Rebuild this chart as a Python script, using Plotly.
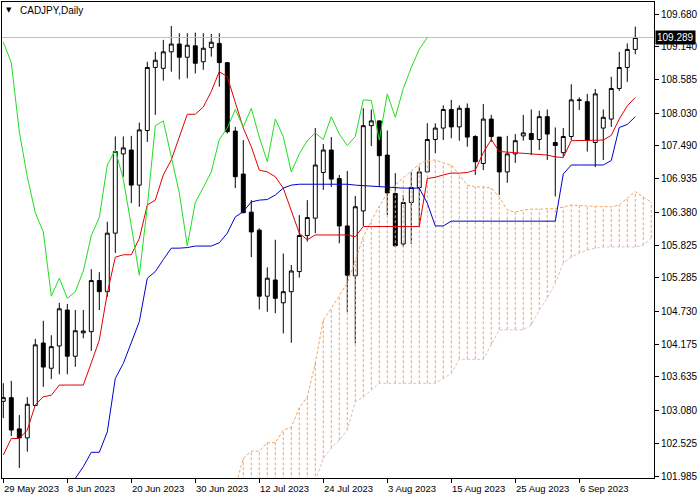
import plotly.graph_objects as go

# ---- data (CADJPY daily, 29 May 2023 .. 15 Sep 2023) ----
dates = ["29 May 2023", "8 Jun 2023", "20 Jun 2023", "30 Jun 2023", "12 Jul 2023",
         "24 Jul 2023", "3 Aug 2023", "15 Aug 2023", "25 Aug 2023", "6 Sep 2023"]
date_pos = [0, 8, 16, 24, 32, 40, 48, 56, 64, 72]

opens = [103.23, 103.29, 102.77, 102.62, 103.16, 104.20, 103.78, 104.15, 104.75, 103.98,
         104.37, 104.39, 105.24, 105.055, 106.03, 107.35, 107.415, 106.83, 107.74, 108.79,
         108.775, 109.05, 109.18, 108.96, 109.15, 108.885, 109.12, 109.19, 108.87, 107.73,
         107.015, 106.38, 106.08, 104.98, 105.25, 104.87, 105.055, 105.39, 105.99, 106.28,
         107.04, 107.415, 106.94, 106.15, 105.32, 106.40, 107.82, 107.90, 107.33, 106.69,
         105.85, 106.54, 106.79, 107.05, 107.59, 107.78, 108.09, 107.80, 108.11, 107.64,
         107.19, 107.93, 107.63, 107.05, 107.35, 107.65, 107.69, 107.59, 107.97, 107.54,
         107.37, 107.64, 108.25, 108.22, 107.54, 107.78, 107.93, 108.44, 108.79, 109.09]
highs = [103.53, 103.57, 103.00, 103.30, 104.27, 104.57, 104.33, 104.87, 104.85, 104.75,
         104.75, 105.43, 105.38, 106.22, 107.64, 107.64, 107.65, 107.87, 108.885, 109.05,
         109.25, 109.48, 109.36, 109.36, 109.37, 109.36, 109.35, 109.36, 108.88, 107.80,
         107.58, 106.58, 106.11, 105.46, 105.92, 105.69, 105.50, 106.33, 106.58, 107.78,
         107.515, 107.63, 107.00, 107.065, 106.65, 108.11, 108.09, 107.91, 107.74, 107.03,
         106.665, 107.05, 107.14, 107.86, 107.86, 108.16, 108.25, 108.16, 108.19, 107.66,
         108.18, 108.00, 107.63, 107.65, 107.68, 108.00, 108.09, 108.07, 108.09, 107.79,
         107.78, 108.51, 108.29, 108.35, 108.43, 108.09, 108.635, 109.05, 109.19, 109.47]
lows = [102.95, 102.65, 102.12, 102.39, 103.15, 103.47, 103.60, 103.68, 103.68, 103.805,
        104.28, 104.07, 104.75, 104.97, 105.70, 106.97, 106.53, 106.47, 107.55, 108.00,
        108.57, 108.72, 108.59, 108.61, 108.69, 108.75, 108.97, 108.47, 107.69, 106.78,
        106.365, 105.63, 104.76, 104.72, 104.695, 104.36, 104.205, 105.29, 105.89, 106.03,
        106.75, 106.80, 105.86, 104.72, 104.195, 106.15, 107.48, 106.80, 106.33, 105.80,
        105.80, 105.85, 106.14, 107.04, 107.36, 107.58, 107.61, 107.57, 107.47, 107.00,
        107.08, 107.55, 106.665, 106.87, 107.20, 107.57, 107.33, 107.415, 107.25, 106.64,
        107.30, 107.58, 108.08, 107.39, 107.13, 107.25, 107.80, 108.40, 108.55, 109.01]
closes = [103.29, 102.75, 102.62, 103.18, 104.17, 103.80, 104.14, 104.77, 103.98, 104.405,
          104.40, 105.24, 105.055, 106.03, 107.39, 107.45, 106.83, 107.75, 108.79, 108.91,
          109.05, 109.18, 108.96, 109.16, 108.86, 109.11, 109.21, 108.87, 107.72, 106.97,
          106.37, 106.05, 104.98, 105.28, 104.945, 105.055, 105.40, 105.99, 106.29, 107.165,
          107.415, 106.93, 106.15, 105.33, 106.47, 107.82, 107.90, 107.32, 106.70, 105.82,
          106.54, 106.79, 107.05, 107.59, 107.78, 108.09, 107.80, 108.11, 107.63, 107.22,
          107.93, 107.64, 107.05, 107.35, 107.57, 107.70, 107.59, 107.97, 107.68, 107.49,
          107.64, 108.25, 108.24, 107.58, 108.35, 107.96, 108.44, 108.79, 109.09, 109.289]

tenkan = [102.335, 102.61, 102.61, 102.75, 103.17, 103.305, 103.33, 103.50, 103.50, 103.50,
          103.50, 103.87, 104.25, 105.03, 105.63, 105.67, 105.67, 105.94, 106.50, 106.58,
          107.00, 107.25, 107.64, 108.01, 108.01, 108.13, 108.39, 108.72, 108.635, 108.19,
          107.78, 107.47, 107.08, 107.05, 106.97, 106.78, 106.415, 106.03, 105.92, 106.00,
          106.00, 106.00, 106.00, 106.00, 105.97, 106.14, 106.14, 106.14, 106.14, 106.14,
          106.14, 106.14, 106.14, 106.94, 106.96, 107.00, 107.03, 107.03, 107.04, 107.08,
          107.37, 107.59, 107.39, 107.38, 107.37, 107.36, 107.35, 107.34, 107.33, 107.30,
          107.29, 107.57, 107.57, 107.57, 107.57, 107.58, 107.66, 107.93, 108.15, 108.29]
kijun = [None, None, None, None, None, None, None, None, 101.75, 101.95,
         102.14, 102.38, 102.38, 102.72, 103.61, 103.86, 104.22, 104.555, 105.28, 105.39,
         105.59, 105.78, 105.78, 105.79, 105.815, 105.815, 105.815, 105.87, 106.03, 106.30,
         106.39, 106.55, 106.58, 106.59, 106.665, 106.78, 106.83, 106.845, 106.845, 106.845,
         106.845, 106.845, 106.845, 106.845, 106.83, 106.82, 106.82, 106.80, 106.79, 106.78,
         106.78, 106.78, 106.78, 106.53, 106.15, 106.15, 106.23, 106.23, 106.23, 106.23,
         106.23, 106.23, 106.23, 106.23, 106.23, 106.23, 106.23, 106.23, 106.23, 106.23,
         107.015, 107.165, 107.165, 107.165, 107.165, 107.165, 107.24, 107.79, 107.84, 107.97]

# Senkou spans (cloud), indices 0..81 (two bars beyond the last candle)
span_a = [None] * 29 + [
    101.80, 102.28, 102.40, 102.40, 102.54, 102.54, 102.75, 102.80, 103.12, 103.30,
    103.87, 104.58, 104.78, 104.98, 105.20, 105.57, 105.97, 106.24, 106.48, 106.69,
    106.84, 106.95, 107.06, 107.18, 107.24, 107.25, 107.20, 107.165, 107.00, 106.83,
    106.80, 106.80, 106.78, 106.63, 106.415, 106.38, 106.415, 106.43, 106.43, 106.43,
    106.44, 106.465, 106.50, 106.49, 106.48, 106.47, 106.47, 106.47, 106.50, 106.615,
    106.72, 106.63, 106.55]
span_b = [None] * 39 + [
    101.90, 102.28, 102.45, 102.58, 102.75, 103.22, 103.30, 103.42, 103.53, 103.53,
    103.53, 103.53, 103.53, 103.53, 103.53, 103.53, 103.61, 103.695, 103.93, 103.93,
    103.93, 103.93, 104.17, 104.42, 104.42, 104.42, 104.42, 104.50, 104.75, 104.95,
    105.20, 105.53, 105.63, 105.70, 105.75, 105.78, 105.80, 105.80, 105.80, 105.80,
    105.80, 105.83, 105.95]

price_ticks = [109.680, 109.140, 108.585, 108.030, 107.490, 106.935, 106.380, 105.825,
               105.285, 104.730, 104.175, 103.635, 103.080, 102.525, 101.985]
last_price = 109.289

# ---- figure ----
idx = list(range(len(closes)))
cloud_idx = list(range(len(span_a)))

fig = go.Figure()

# cloud hatch (vertical dotted lines from span B to span A)
hx, hy = [], []
for i in cloud_idx:
    a, b = span_a[i], span_b[i]
    if a is None:
        continue
    lo = b if b is not None else 100.0
    hx += [i, i, None]
    hy += [lo, a, None]
fig.add_trace(go.Scatter(x=hx, y=hy, mode="lines", hoverinfo="skip",
                         line=dict(color="#F4A460", width=1, dash="3px,2px")))
fig.add_trace(go.Scatter(x=cloud_idx, y=span_a, mode="lines", hoverinfo="skip",
                         line=dict(color="#F4A460", width=1, dash="3px,2px")))
fig.add_trace(go.Scatter(x=cloud_idx, y=span_b, mode="lines", hoverinfo="skip",
                         line=dict(color="#D8BFD8", width=1, dash="3px,2px")))

# current price line
fig.add_trace(go.Scatter(x=[-1, 90], y=[last_price, last_price], mode="lines",
                         hoverinfo="skip", line=dict(color="#C0C0C0", width=1)))

fig.add_trace(go.Candlestick(
    x=idx, open=opens, high=highs, low=lows, close=closes,
    increasing=dict(line=dict(color="black", width=1), fillcolor="white"),
    decreasing=dict(line=dict(color="black", width=1), fillcolor="black"),
    whiskerwidth=0))

fig.add_trace(go.Scatter(x=idx, y=tenkan, mode="lines", hoverinfo="skip",
                         line=dict(color="#E00000", width=1)))
fig.add_trace(go.Scatter(x=idx, y=kijun, mode="lines", hoverinfo="skip",
                         line=dict(color="#0000D0", width=1)))
chikou_x = idx[:len(closes) - 26]
chikou_y = closes[26:]
fig.add_trace(go.Scatter(x=chikou_x, y=chikou_y, mode="lines", hoverinfo="skip",
                         line=dict(color="#22DD22", width=1)))

font = "Liberation Sans, Arial, sans-serif"
annotations = []
for lbl, p in zip(dates, date_pos):
    annotations.append(dict(x=p, y=0, xref="x", yref="paper", text=lbl, showarrow=False,
                            xanchor="left", yanchor="top", yshift=-3, xshift=-1,
                            font=dict(family=font, size=9.5, color="black")))
annotations.append(dict(x=1, y=last_price, xref="paper", yref="y", text=f"{last_price:.3f}",
                        showarrow=False, xanchor="left", yanchor="middle", xshift=1,
                        bgcolor="black", borderpad=1,
                        font=dict(family=font, size=10, color="white")))
annotations.append(dict(x=0.003, y=0.995, xref="paper", yref="paper", text="▼",
                        showarrow=False, xanchor="left", yanchor="top",
                        font=dict(family="DejaVu Sans", size=7, color="black")))
annotations.append(dict(x=0.024, y=0.997, xref="paper", yref="paper", text="CADJPY,Daily",
                        showarrow=False, xanchor="left", yanchor="top",
                        font=dict(family=font, size=10, color="black")))

fig.update_layout(
    width=700, height=500,
    margin=dict(l=2, r=46, t=2, b=22, autoexpand=False),
    paper_bgcolor="white", plot_bgcolor="white",
    showlegend=False,
    annotations=annotations,
    xaxis=dict(range=[-0.1625, 81.34], showgrid=False, zeroline=False,
               showline=True, linecolor="black", linewidth=1, mirror=True,
               ticks="outside", ticklen=4, tickcolor="black",
               tickvals=date_pos, ticktext=[""] * len(date_pos),
               rangeslider=dict(visible=False), fixedrange=True),
    yaxis=dict(range=[101.952, 109.880], side="right", showgrid=False, zeroline=False,
               showline=True, linecolor="black", linewidth=1, mirror=True,
               ticks="outside", ticklen=4, tickcolor="black",
               tickvals=price_ticks, ticktext=[f"{v:.3f}" for v in price_ticks],
               tickfont=dict(family=font, size=10, color="black"), fixedrange=True),
)

fig.write_html("out.html", config={"displayModeBar": False},
               post_script="document.body.style.margin='0';document.body.style.padding='0';")
